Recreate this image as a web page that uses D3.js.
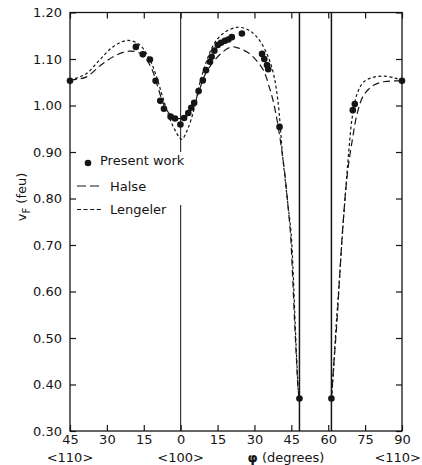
<!DOCTYPE html>
<html lang="en">
<head>
<meta charset="UTF-8">
<title>Fermi velocity vs angle</title>
<script src="https://d3js.org/d3.v7.min.js"></script>
<style>
    body{
        margin: 0;
        background: #fff;
    }
    svg{
        display: block;
        font-family: "DejaVu Sans", sans-serif;
    }
</style>
</head>
<body>
<svg></svg>
<script>
    // position along the axis (deg): left <110> -> <100> -> ... -> <110>
    const tickPos = [0, 15, 30, 45, 60, 75, 90, 105, 120, 135];
    const tickLabels = ["45", "30", "15", "0", "15", "30", "45", "60", "75", "90"];
    const dirPos = [0, 45, 135];
    const dirLabels = ["<110>", "<100>", "<110>"];
    const yTicks = [0.30, 0.40, 0.50, 0.60, 0.70, 0.80, 0.90, 1.00, 1.10, 1.20];
    const vLines = [93.3, 106.3];

    // present work (points)
    const presentS = [0, 26.8, 29.6, 32.5, 34.8, 36.7, 38.2, 40.9, 42.7, 44.9, 46.4, 48.1, 49.3, 50.5, 52.3, 54.0,
        55.3, 56.9, 57.6, 58.7, 60.1, 61.4, 63.0, 64.4, 65.8, 69.9, 78.1, 79.0, 80.1, 80.6, 85.2, 93.3, 106.3,
        115.0, 115.8, 135];
    const presentV = [1.053, 1.126, 1.110, 1.099, 1.053, 1.010, 0.993, 0.976, 0.972, 0.959, 0.973, 0.984, 0.995,
        1.006, 1.031, 1.054, 1.076, 1.094, 1.105, 1.118, 1.130, 1.135, 1.139, 1.142, 1.147, 1.155, 1.111, 1.100,
        1.087, 1.078, 0.954, 0.370, 0.370, 0.990, 1.003, 1.053];

    // Halse (long dashes)
    const halseS1 = [0, 1.1, 6.5, 13.3, 18.7, 24.1, 28.9, 32.9, 35.7, 38.3, 41.8, 45.1, 47.9, 50.5, 52.9, 54.9,
        57.3, 61.4, 65.5, 68.2, 72.3, 76.3, 79.0, 81.0, 82.5, 84.2, 85.8, 87.4, 88.6, 89.7, 90.5, 91.3, 92.1,
        92.8, 93.3];
    const halseV1 = [1.053, 1.055, 1.061, 1.090, 1.108, 1.117, 1.111, 1.083, 1.040, 1.000, 0.975, 0.972, 0.979,
        1.004, 1.038, 1.066, 1.087, 1.112, 1.126, 1.124, 1.114, 1.094, 1.072, 1.040, 1.012, 0.969, 0.915, 0.851,
        0.786, 0.721, 0.635, 0.539, 0.453, 0.388, 0.370];
    const halseS2 = [106.3, 107.1, 108.6, 109.8, 111.0, 112.8, 114.8, 116.8, 119.5, 123.6, 127.7, 131.7, 135];
    const halseV2 = [0.370, 0.431, 0.539, 0.646, 0.743, 0.854, 0.926, 0.983, 1.023, 1.044, 1.051, 1.053, 1.053];

    // Lengeler (short dashes)
    const lengS1 = [0, 1.1, 6.5, 11.9, 17.4, 23.5, 28.2, 32.2, 35.0, 37.7, 41.1, 44.4, 45.5, 47.9, 50.5, 53.3,
        58.3, 62.3, 67.8, 71.9, 75.9, 80.0, 82.7, 84.5, 86.5, 88.4, 89.9, 90.7, 91.5, 92.3, 93.0, 93.3];
    const lengV1 = [1.053, 1.056, 1.068, 1.097, 1.126, 1.140, 1.131, 1.101, 1.065, 1.018, 0.965, 0.932, 0.927,
        0.950, 0.993, 1.058, 1.130, 1.155, 1.168, 1.164, 1.148, 1.112, 1.069, 1.012, 0.890, 0.797, 0.726, 0.646,
        0.539, 0.442, 0.377, 0.370];
    const lengS2 = [106.3, 106.9, 108.1, 109.4, 110.8, 112.1, 113.4, 114.8, 116.8, 119.5, 123.6, 127.7, 132.2, 135];
    const lengV2 = [0.370, 0.410, 0.517, 0.614, 0.726, 0.818, 0.904, 0.976, 1.026, 1.051, 1.061, 1.063, 1.059, 1.053];

    const legendNames = ["Present work", "Halse", "Lengeler"];

    const width = 422, height = 465;
    const mLeft = 70, mRight = 402, mTop = 12.5, mBottom = 431;
    const ink = '#151515';

    const svg = d3.select('svg')
        .attr('width', width)
        .attr('height', height);

    const x = d3.scaleLinear().domain([0, 135]).range([mLeft, mRight]);
    const y = d3.scaleLinear().domain([0.30, 1.20]).range([mBottom, mTop]);

    /* frame */
    svg.append('rect')
        .attr('x', mLeft).attr('y', mTop)
        .attr('width', mRight - mLeft).attr('height', mBottom - mTop)
        .attr('fill', 'none').attr('stroke', ink).attr('stroke-width', 1.3);

    /* axes with inward ticks */
    svg.append('g')
        .attr('transform', `translate(${mLeft},0)`)
        .call(d3.axisLeft(y).tickValues(yTicks).tickFormat(d3.format('.2f')).tickSize(-6).tickPadding(8));
    svg.append('g')
        .attr('transform', `translate(${mRight},0)`)
        .call(d3.axisRight(y).tickValues(yTicks).tickFormat('').tickSize(-6));
    svg.append('g')
        .attr('transform', `translate(0,${mBottom})`)
        .call(d3.axisBottom(x).tickValues(tickPos).tickFormat((d, i) => tickLabels[i]).tickSize(-6).tickPadding(4));
    svg.append('g')
        .attr('transform', `translate(0,${mTop})`)
        .call(d3.axisTop(x).tickValues(tickPos).tickFormat('').tickSize(-6));

    svg.selectAll('.domain').remove();
    svg.selectAll('.tick line').attr('stroke', ink).attr('stroke-width', 1.2);
    svg.selectAll('.tick text').attr('fill', ink).style('font-size', '13px').style('font-family', '"DejaVu Sans", sans-serif');

    /* direction labels (last one kept inside the page) */
    svg.selectAll('.dir')
        .data(dirPos)
        .enter().append('text')
        .attr('x', (d, i) => i === dirPos.length - 1 ? width - 1 : x(d))
        .attr('y', 462)
        .attr('text-anchor', (d, i) => i === dirPos.length - 1 ? 'end' : 'middle')
        .attr('fill', ink)
        .style('font-size', '13px')
        .text((d, i) => dirLabels[i]);

    /* axis titles */
    const xt = svg.append('text')
        .attr('x', 286).attr('y', 462)
        .attr('text-anchor', 'middle')
        .attr('fill', ink)
        .style('font-size', '13px');
    xt.append('tspan').attr('font-weight', 'bold').text('φ');
    xt.append('tspan').text(' (degrees)');

    const yt = svg.append('text')
        .attr('transform', 'translate(26,197) rotate(-90)')
        .attr('text-anchor', 'middle')
        .attr('fill', ink)
        .style('font-size', '13px');
    yt.append('tspan').text('v');
    yt.append('tspan').attr('dy', 4).style('font-size', '10px').text('F');
    yt.append('tspan').attr('dy', -4).text(' (feu)');

    /* vertical line at <100>, broken for the legend */
    [[mTop, 152], [205, mBottom]].forEach(seg => {
        svg.append('line')
            .attr('x1', x(45)).attr('x2', x(45))
            .attr('y1', seg[0]).attr('y2', seg[1])
            .attr('stroke', ink).attr('stroke-width', 1);
    });

    /* heavy vertical lines */
    svg.selectAll('.vline')
        .data(vLines)
        .enter().append('line')
        .attr('x1', d => x(d)).attr('x2', d => x(d))
        .attr('y1', mTop).attr('y2', mBottom)
        .attr('stroke', ink).attr('stroke-width', 1.5);

    /* theory curves */
    const line = d3.line()
        .x(d => x(d[0]))
        .y(d => y(d[1]))
        .curve(d3.curveCatmullRom.alpha(0.5));

    const curves = [
        {s: halseS1, v: halseV1, dash: '7,4'},
        {s: halseS2, v: halseV2, dash: '7,4'},
        {s: lengS1, v: lengV1, dash: '3,2.5'},
        {s: lengS2, v: lengV2, dash: '3,2.5'}
    ];
    curves.forEach(c => {
        svg.append('path')
            .datum(c.s.map((s, i) => [s, c.v[i]]))
            .attr('d', line)
            .attr('fill', 'none')
            .attr('stroke', ink)
            .attr('stroke-width', 1.2)
            .attr('stroke-dasharray', c.dash);
    });

    /* present work points */
    svg.selectAll('.pt')
        .data(presentS)
        .enter().append('circle')
        .attr('cx', d => x(d))
        .attr('cy', (d, i) => y(presentV[i]))
        .attr('r', 3.3)
        .attr('fill', ink);

    /* legend */
    svg.append('circle').attr('cx', 88).attr('cy', 163).attr('r', 3.3).attr('fill', ink);
    svg.append('line').attr('x1', 77).attr('x2', 101).attr('y1', 186).attr('y2', 186)
        .attr('stroke', ink).attr('stroke-width', 1.2).attr('stroke-dasharray', '9,4');
    svg.append('line').attr('x1', 77).attr('x2', 101).attr('y1', 209.5).attr('y2', 209.5)
        .attr('stroke', ink).attr('stroke-width', 1.2).attr('stroke-dasharray', '4,2.6');
    svg.selectAll('.leg')
        .data(legendNames)
        .enter().append('text')
        .attr('x', (d, i) => i === 0 ? 100 : 110)
        .attr('y', (d, i) => [164.5, 191, 213.5][i])
        .attr('fill', ink)
        .style('font-size', '13px')
        .text(d => d);
</script>
</body>
</html>
